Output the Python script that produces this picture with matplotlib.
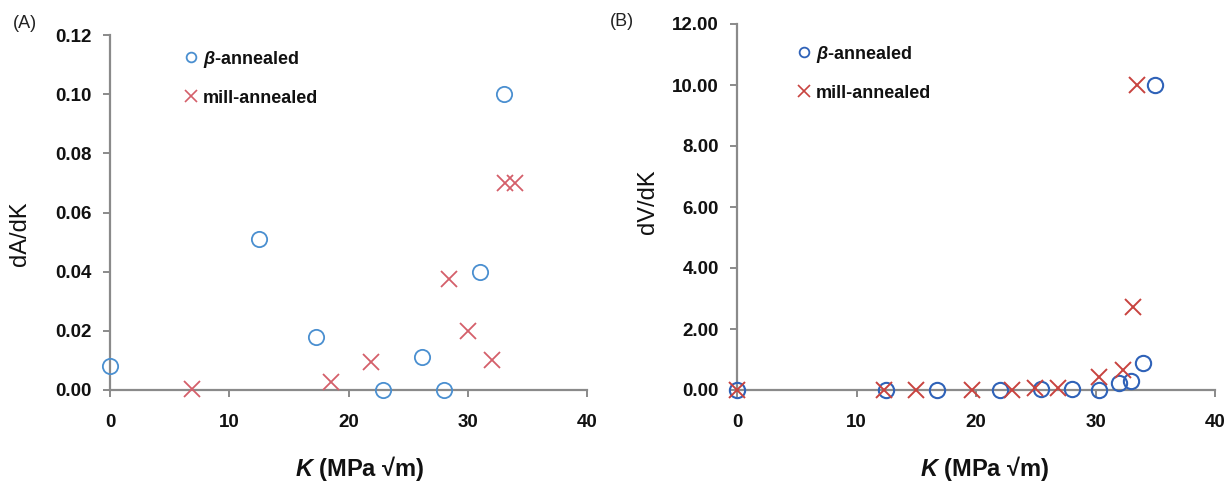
import matplotlib
matplotlib.use("Agg")
import matplotlib.pyplot as plt
from matplotlib.lines import Line2D

plt.rcParams['font.family'] = ['Liberation Sans', 'DejaVu Sans']
plt.rcParams['mathtext.fontset'] = 'custom'
plt.rcParams['mathtext.bfit'] = 'Liberation Sans:bold:italic'
plt.rcParams['mathtext.rm'] = 'Liberation Sans:bold'

# ---- Panel A data (dA/dK) ----
a_beta_k = [0.0, 12.5, 17.3, 22.9, 26.2, 28.0, 31.0, 33.0]
a_beta_v = [0.008, 0.051, 0.0178, 0.0, 0.0111, 0.0, 0.040, 0.100]
a_mill_k = [6.9, 18.5, 21.9, 28.4, 30.0, 32.0, 33.1, 34.0]
a_mill_v = [0.0003, 0.0027, 0.0094, 0.0374, 0.0200, 0.0101, 0.0700, 0.0700]

# ---- Panel B data (dV/dK) ----
b_beta_k = [0.0, 12.5, 16.7, 22.0, 25.4, 28.0, 30.3, 32.0, 33.0, 34.0, 35.0]
b_beta_v = [0.0, 0.0, 0.0, 0.0, 0.02, 0.02, 0.0, 0.22, 0.31, 0.88, 10.0]
b_mill_k = [0.0, 12.3, 15.0, 19.7, 23.0, 24.9, 26.9, 30.3, 32.3, 33.1, 33.5]
b_mill_v = [0.0, 0.0, 0.0, 0.0, 0.0, 0.05, 0.05, 0.42, 0.64, 2.72, 10.0]

x_ticks = [0, 10, 20, 30, 40]
a_y_ticks = [0.00, 0.02, 0.04, 0.06, 0.08, 0.10, 0.12]
b_y_ticks = [0.0, 2.0, 4.0, 6.0, 8.0, 10.0, 12.0]

labels = [r'$\mathbfit{\beta}$-annealed', 'mill-annealed']
xlabel = r'$\mathbfit{K}$ (MPa √m)'

W, H = 1231, 483
fig = plt.figure(figsize=(W / 100, H / 100), dpi=100)

def axes_px(l, r, t, b):
    return fig.add_axes([l / W, 1 - b / H, (r - l) / W, (b - t) / H])

axA = axes_px(110, 587, 35, 390)
axB = axes_px(737, 1215, 24, 390)

spine_col = '#8a8a8a'

def style(ax, yticks, fmt, ylabel, ylab_xy, xlab_xy):
    ax.set_xlim(0, 40)
    ax.set_ylim(yticks[0], yticks[-1])
    ax.set_xticks(x_ticks)
    ax.set_yticks(yticks)
    ax.set_xticklabels([str(t) for t in x_ticks])
    ax.set_yticklabels([fmt.format(t) for t in yticks])
    for s in ['top', 'right']:
        ax.spines[s].set_visible(False)
    for s in ['left', 'bottom']:
        ax.spines[s].set_color(spine_col)
        ax.spines[s].set_linewidth(1.6)
    ax.tick_params(axis='x', direction='out', length=5, width=1.4,
                   color=spine_col, pad=12, labelsize=13.5)
    ax.tick_params(axis='y', direction='out', length=5, width=1.4,
                   color=spine_col, pad=8, labelsize=13.5)
    for lab in ax.get_xticklabels() + ax.get_yticklabels():
        lab.set_fontweight('bold')
        lab.set_color('#111111')
    ax.set_ylabel(ylabel, fontsize=17, color='#111111')
    ax.yaxis.set_label_coords(*ylab_xy)
    ax.set_xlabel(xlabel, fontsize=17, fontweight='bold', color='#111111')
    ax.xaxis.set_label_coords(*xlab_xy)

# Panel A
ca, xa = '#4a8fd0', '#d45f6a'
axA.plot(a_beta_k, a_beta_v, linestyle='none', marker='o', markersize=11,
         markerfacecolor='none', markeredgecolor=ca, markeredgewidth=1.3,
         clip_on=False, zorder=3)
axA.plot(a_mill_k, a_mill_v, linestyle='none', marker='x', markersize=11,
         markeredgecolor=xa, markeredgewidth=1.3, clip_on=False, zorder=3)
style(axA, a_y_ticks, '{:.2f}', 'dA/dK', (-0.166, 0.44), (0.524, -0.18))

# Panel B
cb, xb = '#2f62b8', '#c8433f'
axB.plot(b_beta_k, b_beta_v, linestyle='none', marker='o', markersize=11,
         markerfacecolor='none', markeredgecolor=cb, markeredgewidth=1.5,
         clip_on=False, zorder=3)
axB.plot(b_mill_k, b_mill_v, linestyle='none', marker='x', markersize=11,
         markeredgecolor=xb, markeredgewidth=1.4, clip_on=False, zorder=3)
style(axB, b_y_ticks, '{:.2f}', 'dV/dK', (-0.163, 0.515), (0.519, -0.175))

def legend(ax, cc, xc, anchor):
    handles = [
        Line2D([], [], linestyle='none', marker='o', markersize=7,
               markerfacecolor='none', markeredgecolor=cc, markeredgewidth=1.3),
        Line2D([], [], linestyle='none', marker='x', markersize=8,
               markeredgecolor=xc, markeredgewidth=1.2),
    ]
    leg = ax.legend(handles, labels, loc='center left', bbox_to_anchor=anchor,
                    frameon=False, handlelength=0.8, handletextpad=0.25,
                    borderpad=0, borderaxespad=0, labelspacing=1.1,
                    prop={'weight': 'bold', 'size': 13})
    for t in leg.get_texts():
        t.set_color('#111111')

legend(axA, ca, xa, (0.155, 0.88))
legend(axB, cb, xb, (0.126, 0.867))

fig.text(13 / W, 1 - 23 / H, '(A)', fontsize=13, va='center', ha='left', color='#222222')
fig.text(610 / W, 1 - 22 / H, '(B)', fontsize=13, va='center', ha='left', color='#222222')

fig.savefig('out.png', dpi=100)
